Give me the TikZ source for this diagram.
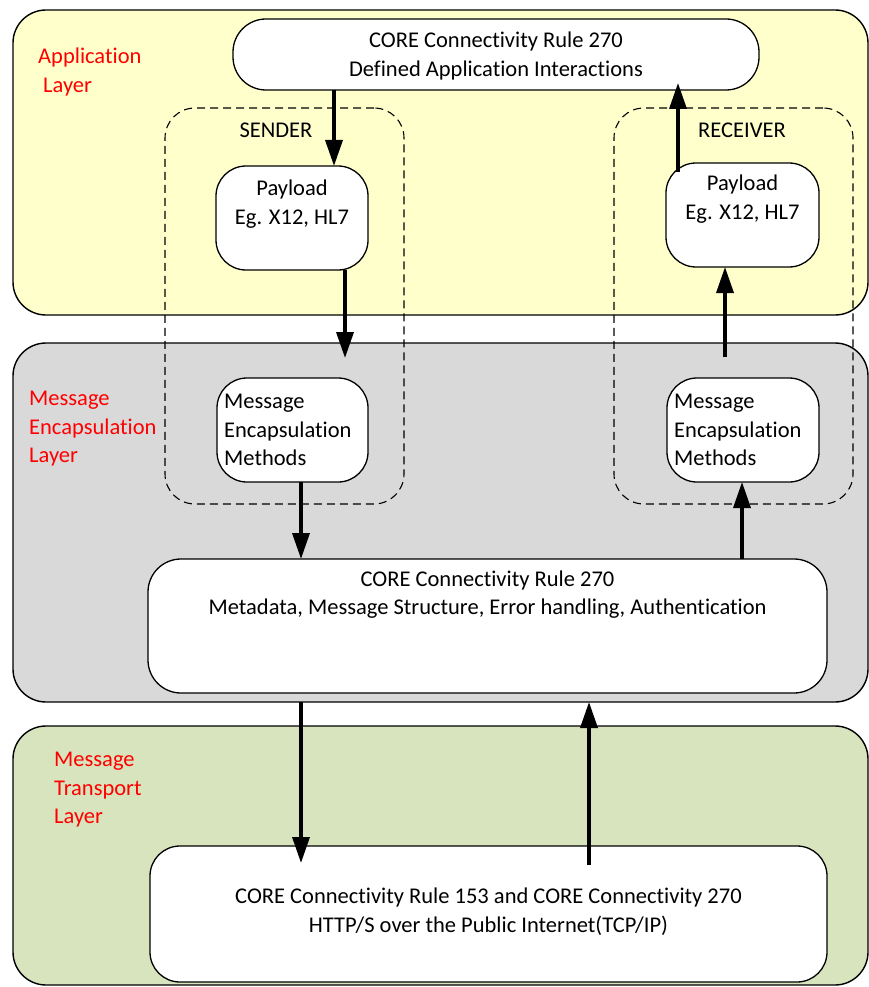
\documentclass[tikz,border=0pt]{standalone}
\usepackage{fontspec}
\setmainfont{Carlito}[RawFeature={-liga;-clig;-calt;-dlig}]
\usetikzlibrary{arrows.meta}
\definecolor{appfill}{RGB}{255,255,204}
\definecolor{encfill}{RGB}{217,217,217}
\definecolor{trnfill}{RGB}{215,228,189}

\begin{document}
\begin{tikzpicture}[x=1pt,y=-1pt,
  shapebase/.style={rectangle,inner sep=0pt,outer sep=0pt},
  layerbox/.style={shapebase,draw=black,line width=1.4pt,rounded corners=33pt},
  stagebox/.style={shapebase,draw=black,line width=1.3pt,fill=white,rounded corners=30pt},
  groupbox/.style={shapebase,draw=black,line width=1.1pt,dash pattern=on 8pt off 5pt,rounded corners=30pt},
  lbl/.style={text=red,font=\fontsize{22.5}{28.5}\selectfont,align=left,anchor=west,inner sep=0pt},
  txt/.style={font=\fontsize{22.5}{28.5}\selectfont,align=center,inner sep=0pt},
  ltxt/.style={font=\fontsize{22.5}{28.5}\selectfont,align=left,anchor=west,inner sep=0pt},
  flow/.style={line width=3.5pt,-{Triangle[width=17pt,length=26pt]}}
]
\useasboundingbox (0,0) rectangle (869,987);

% layers
\node[layerbox,fill=appfill,minimum width=855pt,minimum height=305pt] (app) at (440.5,162.5) {};
\node[layerbox,fill=encfill,minimum width=855pt,minimum height=359pt] (enc) at (440.5,522.5) {};
\node[layerbox,fill=trnfill,minimum width=855pt,minimum height=259pt] (trn) at (440.5,855.5) {};

\node[lbl] (appL) at (38,72) {Application\\\hspace*{5pt}Layer};
\node[lbl] (encL) at (29,429) {Message\\Encapsulation\\Layer};
\node[lbl] (trnL) at (54,790) {Message\\Transport\\Layer};

% sender / receiver groups
\node[groupbox,minimum width=239pt,minimum height=396pt] (grpS) at (284.5,306) {};
\node[groupbox,minimum width=239pt,minimum height=396pt] (grpR) at (733.5,306) {};
\node[txt] (grpSL) at (276,130) {SENDER};
\node[txt] (grpRL) at (742,130) {RECEIVER};

% boxes
\node[stagebox,rounded corners=33pt,minimum width=526pt,minimum height=71pt] (top) at (496,54.5) {};
\node[txt] (topT) at (496,56) {CORE Connectivity Rule 270\\Defined Application Interactions};

\node[stagebox,minimum width=152pt,minimum height=104pt] (payS) at (292,218) {};
\node[txt] (paySt) at (292,204) {Payload\\Eg. X12, HL7};
\node[stagebox,minimum width=153pt,minimum height=104pt] (payR) at (742.5,215) {};
\node[txt] (payRt) at (742.5,199) {Payload\\Eg. X12, HL7};

\node[stagebox,minimum width=151pt,minimum height=104pt] (memS) at (292.5,430) {};
\node[ltxt] (memSt) at (224,430) {Message\\Encapsulation\\Methods};
\node[stagebox,minimum width=152pt,minimum height=104pt] (memR) at (743,430) {};
\node[ltxt] (memRt) at (674,430) {Message\\Encapsulation\\Methods};

\node[stagebox,rounded corners=33pt,minimum width=679pt,minimum height=134pt] (core) at (487.5,626) {};
\node[txt] (coreT) at (487.5,594.5) {CORE Connectivity Rule 270\\Metadata, Message Structure, Error handling, Authentication};

\node[stagebox,minimum width=677pt,minimum height=136pt] (tbox) at (488.5,914) {};
\node[txt] (tboxT) at (488.5,911.5) {CORE Connectivity Rule 153 and CORE Connectivity 270\\HTTP/S over the Public Internet(TCP/IP)};

% arrow columns and free ends
\coordinate (c1) at (334,0);
\coordinate (c2) at (345,0);
\coordinate (c3) at (301,0);
\coordinate (c4) at (742,0);
\coordinate (c5) at (725,0);
\coordinate (c7) at (301,0);
\coordinate (c8) at (589,0);
\coordinate (memSin) at (345,358);
\coordinate (memRout) at (725,357);
\coordinate (payRout) at (678,172);
\coordinate (topIn) at (678,83);
\coordinate (tIn) at (301,863);
\coordinate (tOut) at (589,865);

% flows
\draw[flow] (c1 |- top.south) -- (c1 |- payS.north);
\draw[flow] (c2 |- payS.south) -- (memSin);
\draw[flow] (c3 |- memS.south) -- (c3 |- core.north);
\draw[flow] (c4 |- core.north) -- (c4 |- memR.south);
\draw[flow] (memRout) -- (c5 |- payR.south);
\draw[flow] (payRout) -- (topIn);
\draw[flow] (c7 |- enc.south) -- (tIn);
\draw[flow] (tOut) -- (c8 |- enc.south);
\end{tikzpicture}
\end{document}
